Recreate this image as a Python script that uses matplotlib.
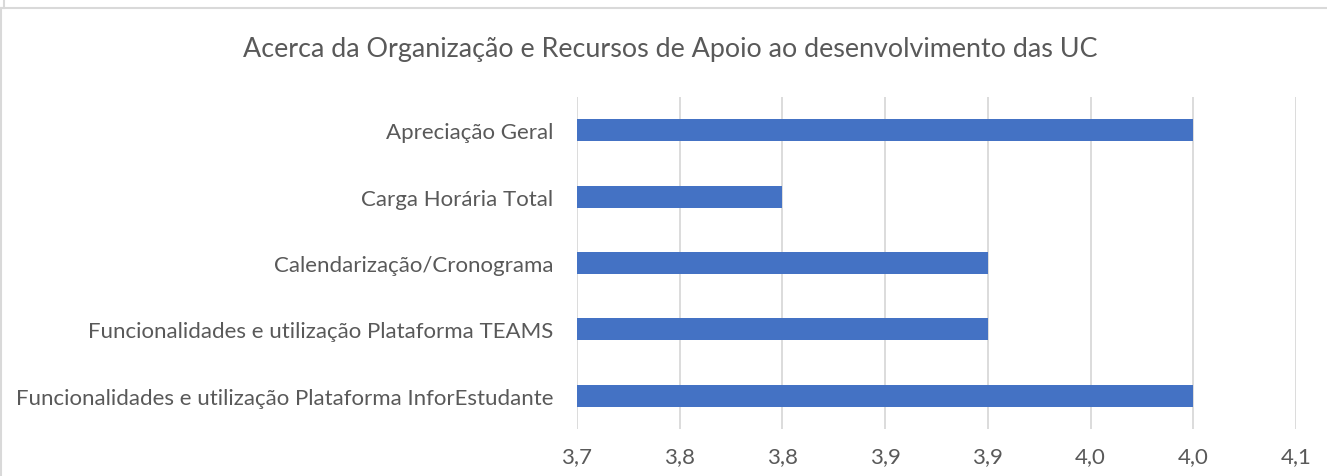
import matplotlib.pyplot as plt
from matplotlib.ticker import FuncFormatter
from matplotlib.lines import Line2D
from decimal import Decimal, ROUND_HALF_UP

# ---- data ----
categories = [
    "Funcionalidades e utilização Plataforma InforEstudante",
    "Funcionalidades e utilização Plataforma TEAMS",
    "Calendarização/Cronograma",
    "Carga Horária Total",
    "Apreciação Geral",
]
values = [4.00, 3.90, 3.90, 3.80, 4.00]
x_ticks = [3.70, 3.75, 3.80, 3.85, 3.90, 3.95, 4.00, 4.05]
title = "Acerca da Organização e Recursos de Apoio ao desenvolvimento das UC"

text_color = "#595959"
grid_color = "#D9D9D9"
bar_color = "#4472C4"

plt.rcParams["font.family"] = ["Lato", "DejaVu Sans"]


def fmt(v, pos):
    d = Decimal(str(round(v, 4))).quantize(Decimal("0.1"), rounding=ROUND_HALF_UP)
    return str(d).replace(".", ",")


fig = plt.figure(figsize=(13.27, 4.77), dpi=100)
ax = fig.add_axes([577 / 1327, 1 - 430 / 477, (1296 - 577) / 1327, (430 - 98) / 477])

ypos = range(len(categories))
ax.barh(ypos, [v - x_ticks[0] for v in values], left=x_ticks[0], height=0.33,
        color=bar_color, zorder=3)

ax.set_xlim(x_ticks[0], x_ticks[-1])
ax.set_ylim(-0.5, len(categories) - 0.5)
ax.set_xticks(x_ticks)
ax.xaxis.set_major_formatter(FuncFormatter(fmt))
ax.set_yticks(list(ypos))
ax.set_yticklabels(categories)

ax.grid(axis="x", color=grid_color, linewidth=1.3, zorder=0)
for s in ax.spines.values():
    s.set_visible(False)
ax.tick_params(axis="both", length=0, colors=text_color, labelsize=16)
ax.tick_params(axis="y", pad=17)
ax.tick_params(axis="x", pad=12)

fig.text(670 / 1327, 1 - 50 / 477, title, ha="center", va="center",
         fontsize=19.4, color=text_color)

# chart frame lines
fig.add_artist(Line2D([0, 1], [1 - 9 / 477] * 2, color=grid_color, linewidth=1.5,
                      transform=fig.transFigure))
fig.add_artist(Line2D([0.5 / 1327] * 2, [0, 1 - 9 / 477], color=grid_color, linewidth=1.5,
                      transform=fig.transFigure))
fig.add_artist(Line2D([4 / 1327] * 2, [1 - 9 / 477, 1], color=grid_color, linewidth=1.5,
                      transform=fig.transFigure))

fig.savefig("out.png", dpi=100)
